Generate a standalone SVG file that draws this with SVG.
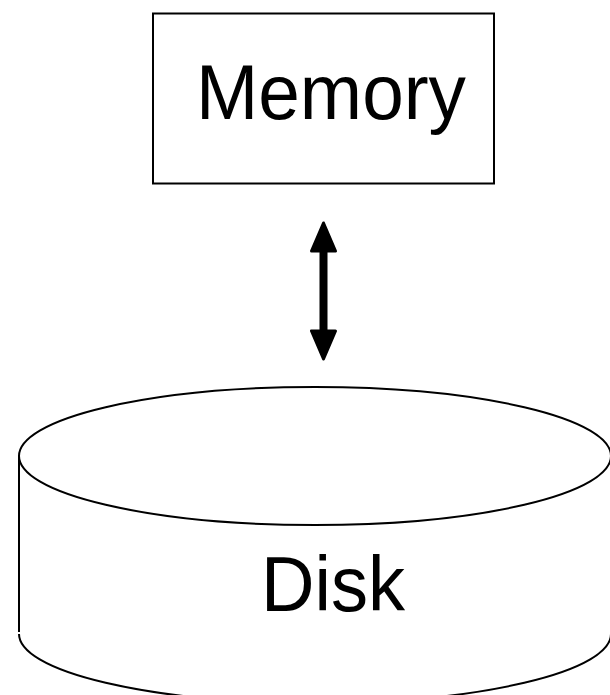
<svg xmlns="http://www.w3.org/2000/svg" width="610" height="695" viewBox="0 0 610 695">
  <style>
    .shape { fill: none; stroke: #000; stroke-width: 2; }
    .label { font-family: "Liberation Sans", Arial, sans-serif; font-size: 77px; fill: #000; }
    .conn { stroke: #000; stroke-width: 8; fill: none; }
  </style>
  <defs>
    <marker id="head" viewBox="0 0 32 28" refX="5" refY="14" markerWidth="32" markerHeight="28" markerUnits="userSpaceOnUse" orient="auto-start-reverse">
      <path d="M2,2 L30,14 L2,26 Z" fill="#000" stroke="#000" stroke-width="3" stroke-linejoin="round"/>
    </marker>
  </defs>
  <rect width="610" height="695" fill="#fff"/>
  <g id="memory">
    <rect class="shape" x="153" y="13.5" width="341" height="170"/>
    <text class="label" x="196" y="119" textLength="270" lengthAdjust="spacingAndGlyphs">Memory</text>
  </g>
  <g id="disk">
    <ellipse class="shape" cx="315" cy="456" rx="296" ry="69"/>
    <line class="shape" x1="19" y1="456" x2="19" y2="632"/>
    <line class="shape" x1="611" y1="456" x2="611" y2="632"/>
    <path class="shape" d="M19,634 A296,69 0 0 0 611,634"/>
    <text class="label" x="261" y="611" textLength="144" lengthAdjust="spacingAndGlyphs">Disk</text>
  </g>
  <g id="connectors">
    <line class="conn" x1="323.5" y1="248" x2="323.5" y2="334" marker-start="url(#head)" marker-end="url(#head)"/>
  </g>
</svg>
